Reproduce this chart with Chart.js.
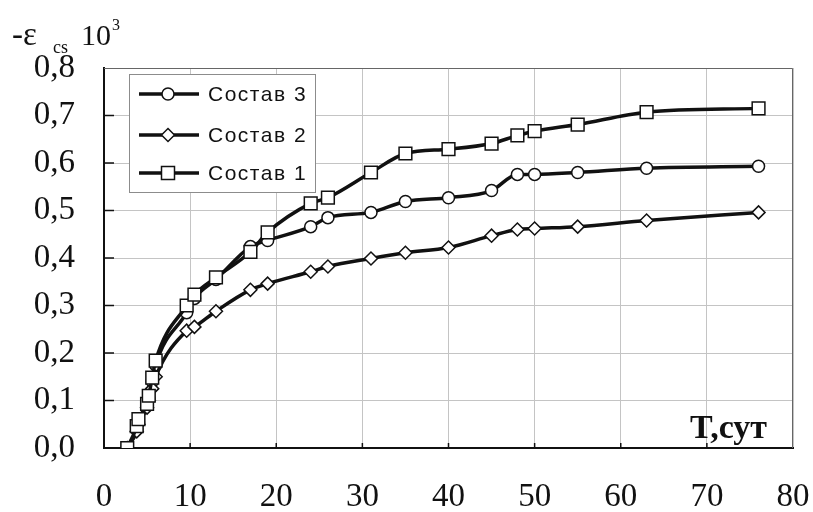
<!DOCTYPE html>
<html>
<head>
<meta charset="utf-8">
<script src="https://cdn.jsdelivr.net/npm/chart.js@4/dist/chart.umd.min.js"></script>
<style>
  body { margin: 0; background: #fff; }
</style>
</head>
<body>
<canvas id="shrinkChart" width="813" height="512"></canvas>
<script>
// Сутки измерений
const days = [2.7, 3.8, 4, 5, 5.2, 5.6, 6, 9.6, 10.5, 13, 17, 19, 24, 26, 31, 35, 40, 45, 48, 50, 55, 63, 76];

// Деформации усадки -εcs·10^3
const sostav3 = [0.0, 0.04, 0.055, 0.09, 0.105, 0.14, 0.175, 0.285, 0.315, 0.355, 0.424, 0.437, 0.466, 0.485, 0.496, 0.519, 0.527, 0.542, 0.576, 0.576, 0.58, 0.589, 0.593];
const sostav2 = [0.0, 0.035, 0.05, 0.085, 0.1, 0.125, 0.15, 0.247, 0.255, 0.288, 0.333, 0.346, 0.371, 0.382, 0.399, 0.411, 0.422, 0.447, 0.46, 0.462, 0.466, 0.479, 0.496];
const sostav1 = [0.0, 0.046, 0.061, 0.093, 0.11, 0.148, 0.184, 0.3, 0.323, 0.359, 0.413, 0.454, 0.515, 0.527, 0.58, 0.62, 0.629, 0.641, 0.658, 0.667, 0.681, 0.707, 0.715];

const seriesNames = ["Состав 3", "Состав 2", "Состав 1"];
const yTickLabels = ["0,0", "0,1", "0,2", "0,3", "0,4", "0,5", "0,6", "0,7", "0,8"];
const xTickLabels = ["0", "10", "20", "30", "40", "50", "60", "70", "80"];

function toPoints(values) {
  return values.map((v, i) => ({ x: days[i], y: v }));
}

function makeDataset(label, values, style, radius, order) {
  return {
    label: label,
    data: toPoints(values),
    borderColor: "#111",
    borderWidth: 3.5,
    cubicInterpolationMode: "monotone",
    pointStyle: style,
    pointRadius: radius,
    pointBackgroundColor: "#fff",
    pointBorderColor: "#111",
    pointBorderWidth: 1.5,
    fill: false,
    order: order,
  };
}

// рисуем маркер для легенды вручную
function drawMarker(ctx, style, x, y) {
  ctx.beginPath();
  if (style === "circle") {
    ctx.arc(x, y, 6, 0, Math.PI * 2);
  } else if (style === "rectRot") {
    ctx.moveTo(x, y - 6.5);
    ctx.lineTo(x + 6.5, y);
    ctx.lineTo(x, y + 6.5);
    ctx.lineTo(x - 6.5, y);
    ctx.closePath();
  } else {
    ctx.rect(x - 6.5, y - 6.5, 13, 13);
  }
  ctx.fillStyle = "#fff";
  ctx.fill();
  ctx.lineWidth = 1.5;
  ctx.strokeStyle = "#111";
  ctx.stroke();
}

// засечки, рамка, подписи осей и легенда
const decorPlugin = {
  id: "decor",
  beforeDatasetsDraw(chart) {
    const ctx = chart.ctx;
    const a = chart.chartArea;
    const xs = chart.scales.x;
    const ys = chart.scales.y;
    ctx.save();
    ctx.strokeStyle = "#666";
    ctx.lineWidth = 1;
    ctx.beginPath();
    ctx.moveTo(a.left, a.top + 0.5);
    ctx.lineTo(a.right - 0.5, a.top + 0.5);
    ctx.lineTo(a.right - 0.5, a.bottom);
    ctx.stroke();

    ctx.strokeStyle = "#111";
    ctx.lineWidth = 1.5;
    ctx.beginPath();
    for (let i = 1; i < yTickLabels.length - 1; i++) {
      const y = ys.getPixelForValue(i / 10);
      ctx.moveTo(a.left, y);
      ctx.lineTo(a.left + 10, y);
    }
    for (let i = 1; i < xTickLabels.length - 1; i++) {
      const x = xs.getPixelForValue(i * 10);
      ctx.moveTo(x, a.bottom);
      ctx.lineTo(x, a.bottom - 5);
    }
    ctx.stroke();
    ctx.restore();
  },
  afterDraw(chart) {
    const ctx = chart.ctx;
    ctx.save();
    ctx.fillStyle = "#111";
    ctx.textBaseline = "alphabetic";
    ctx.textAlign = "left";

    // подпись оси Y: -εcs 10^3
    ctx.font = "33px 'Liberation Serif'";
    ctx.fillText("-ε", 12, 45);
    ctx.font = "30px 'Liberation Serif'";
    ctx.fillText("10", 81, 45);
    ctx.font = "18px 'Liberation Serif'";
    ctx.fillText("cs", 53, 53);
    ctx.font = "16px 'Liberation Serif'";
    ctx.fillText("3", 112, 30);

    // подпись оси X
    ctx.font = "bold 34px 'Liberation Serif'";
    ctx.fillText("T,сут", 690, 438);

    // легенда
    const bx = 129, by = 74, bw = 186, bh = 118;
    ctx.fillStyle = "#fff";
    ctx.fillRect(bx, by, bw, bh);
    ctx.strokeStyle = "#8c8c8c";
    ctx.lineWidth = 1;
    ctx.strokeRect(bx + 0.5, by + 0.5, bw, bh);
    const rows = [94, 135, 173];
    chart.data.datasets.forEach((ds, i) => {
      const y = rows[i];
      ctx.strokeStyle = "#111";
      ctx.lineWidth = 3.5;
      ctx.beginPath();
      ctx.moveTo(139, y);
      ctx.lineTo(199, y);
      ctx.stroke();
      drawMarker(ctx, ds.pointStyle, 168, y);
      ctx.fillStyle = "#111";
      ctx.font = "21px 'Liberation Sans'";
      ctx.letterSpacing = "1.5px";
      ctx.textBaseline = "middle";
      ctx.fillText(ds.label, 208, y + 1);
      ctx.letterSpacing = "0px";
    });
    ctx.restore();
  },
};

new Chart(document.getElementById("shrinkChart"), {
  type: "line",
  data: {
    datasets: [
      makeDataset(seriesNames[0], sostav3, "circle", 6, 3),
      makeDataset(seriesNames[1], sostav2, "rectRot", 6.5, 2),
      makeDataset(seriesNames[2], sostav1, "rect", 9, 1),
    ],
  },
  options: {
    responsive: false,
    animation: false,
    devicePixelRatio: 1,
    layout: { padding: { top: 68, right: 20, left: 0, bottom: 0 } },
    plugins: {
      legend: { display: false },
      tooltip: { enabled: false },
    },
    scales: {
      x: {
        type: "linear",
        min: 0,
        max: 80,
        afterFit: (scale) => {
          scale.height = 64;
          scale.paddingLeft = 0;
          scale.paddingRight = 0;
        },
        border: { color: "#111", width: 2 },
        grid: { color: "#c4c4c4", lineWidth: 1, drawTicks: false },
        ticks: {
          stepSize: 10,
          padding: 30,
          color: "#111",
          font: { family: "'Liberation Serif'", size: 33 },
          callback: (v) => xTickLabels[Math.round(v / 10)],
        },
      },
      y: {
        min: 0,
        max: 0.8,
        afterFit: (scale) => {
          scale.width = 104;
          scale.paddingTop = 0;
          scale.paddingBottom = 0;
        },
        border: { color: "#111", width: 2 },
        grid: { color: "#c4c4c4", lineWidth: 1, drawTicks: false },
        ticks: {
          stepSize: 0.1,
          padding: 29,
          color: "#111",
          font: { family: "'Liberation Serif'", size: 33 },
          callback: (v) => yTickLabels[Math.round(v * 10)],
        },
      },
    },
  },
  plugins: [decorPlugin],
});
</script>
</body>
</html>
